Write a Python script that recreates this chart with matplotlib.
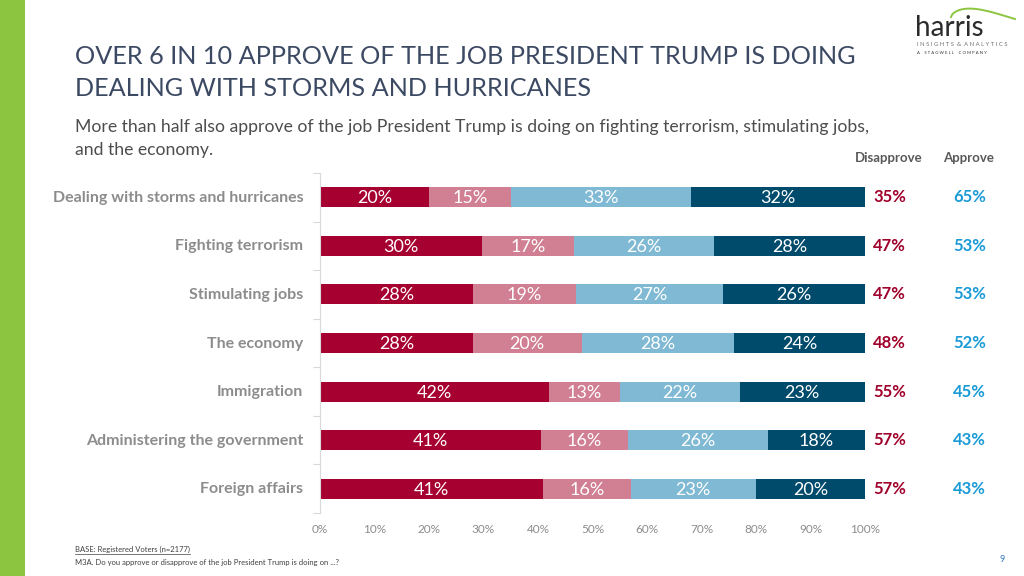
import matplotlib
matplotlib.use("Agg")
import matplotlib.pyplot as plt
import numpy as np
from matplotlib.patches import Rectangle

categories = ["Dealing with storms and hurricanes", "Fighting terrorism", "Stimulating jobs",
              "The economy", "Immigration", "Administering the government", "Foreign affairs"]
strongly_disapprove = [20, 30, 28, 28, 42, 41, 41]
somewhat_disapprove = [15, 17, 19, 20, 13, 16, 16]
somewhat_approve = [33, 26, 27, 28, 22, 26, 23]
strongly_approve = [32, 28, 26, 24, 23, 18, 20]
disapprove_total = [35, 47, 47, 48, 55, 57, 57]
approve_total = [65, 53, 53, 52, 45, 43, 43]
x_ticks = [0, 10, 20, 30, 40, 50, 60, 70, 80, 90, 100]
x_tick_labels = [f"{t}%" for t in x_ticks]

colors = ["#A50030", "#D17F92", "#80B9D3", "#004B6C"]
FONT = "Lato"

W, H = 1024, 576
fig = plt.figure(figsize=(W / 100, H / 100), dpi=100)
fig.patch.set_facecolor("white")

def fx(px):
    return px / W

def fy(py):
    return 1 - py / H

# green side band
fig.add_artist(Rectangle((0, 0), fx(25), 1, transform=fig.transFigure,
                         facecolor="#8CC540", edgecolor="none"))

# title & subtitle
fig.text(fx(75), fy(57), "OVER 6 IN 10 APPROVE OF THE JOB PRESIDENT TRUMP IS DOING",
         fontsize=18.2, color="#3C4963", family=FONT, va="center", ha="left")
fig.text(fx(75), fy(88), "DEALING WITH STORMS AND HURRICANES",
         fontsize=18.2, color="#3C4963", family=FONT, va="center", ha="left")
fig.text(fx(75), fy(127), "More than half also approve of the job President Trump is doing on fighting terrorism, stimulating jobs,",
         fontsize=12.7, color="#4D4D4D", family=FONT, va="center", ha="left")
fig.text(fx(75), fy(150), "and the economy.",
         fontsize=12.7, color="#4D4D4D", family=FONT, va="center", ha="left")

# logo
fig.text(fx(915), fy(28), "harris", fontsize=20, color="#2B2B2B", family=FONT,
         va="center", ha="left")
tt = np.linspace(0, 1, 50)
arc_x = 951 + 64 * tt
arc_y = 17 - 9 * np.sin(np.pi * tt ** 0.6) + 2 * tt
fig.add_artist(plt.Line2D(fx(arc_x), fy(arc_y), transform=fig.transFigure,
                          color="#8CC540", lw=1.4))
fig.text(fx(917), fy(44), "I N S I G H T S  &  A N A L Y T I C S", fontsize=4.2, color="#6E6E6E",
         family=FONT, va="center", ha="left")
fig.text(fx(917), fy(53), "A    S T A G W E L L    C O M P A N Y", fontsize=3.1, color="#333333",
         family=FONT, va="center", ha="left")

# main axes
top_px, bot_px = 173, 513
ax = fig.add_axes([fx(320), fy(bot_px), fx(865) - fx(320), (bot_px - top_px) / H])
n = len(categories)
y = np.arange(n)
series = [strongly_disapprove, somewhat_disapprove, somewhat_approve, strongly_approve]
vals = np.array(series, dtype=float)
totals = vals.sum(axis=0)
left = np.zeros(n)
for k, s in enumerate(series):
    w = np.array(s, dtype=float) / totals * 100
    ax.barh(y, w, left=left, height=0.41, color=colors[k], edgecolor="none")
    for i in range(n):
        ax.text(left[i] + w[i] / 2, y[i] + 0.02, f"{s[i]}%", ha="center", va="center",
                color="white", fontsize=13, family=FONT)
    left += w

ax.set_xlim(0, 100)
ax.set_ylim(n - 0.5, -0.5)
for sp in ["top", "right", "bottom"]:
    ax.spines[sp].set_visible(False)
ax.spines["left"].set_color("#D9D9D9")
ax.spines["left"].set_linewidth(0.8)
ax.set_yticks(y - 0.02)
ax.set_yticklabels(categories, fontsize=11.5, color="#8C8C8C", family=FONT, fontweight="bold")
ax.tick_params(axis="y", length=0, pad=12)
ax.set_yticks(np.arange(-0.5, n, 1.0), minor=True)
ax.tick_params(axis="y", which="minor", length=5, color="#D9D9D9", width=0.8)
ax.set_xticks(x_ticks)
ax.set_xticklabels(x_tick_labels, fontsize=8.5, color="#8C8C8C", family=FONT)
ax.tick_params(axis="x", length=0, pad=8)

# totals columns
for i in range(n):
    ax.text(1.045, i, f"{disapprove_total[i]}%", transform=ax.get_yaxis_transform(),
            ha="center", va="center", fontsize=12, color="#A0002A", family=FONT, fontweight="bold")
    ax.text(1.192, i, f"{approve_total[i]}%", transform=ax.get_yaxis_transform(),
            ha="center", va="center", fontsize=12, color="#1A9AD6", family=FONT, fontweight="bold")
fig.text(fx(889), fy(158), "Disapprove", fontsize=9.5, color="#595959", family=FONT,
         fontweight="bold", ha="center", va="center")
fig.text(fx(969), fy(158), "Approve", fontsize=9.5, color="#595959", family=FONT,
         fontweight="bold", ha="center", va="center")

# footer
fig.text(fx(75), fy(549), "BASE: Registered Voters (n=2177)", fontsize=5.5, color="#404040",
         family=FONT, ha="left", va="center")
fig.add_artist(plt.Line2D([fx(75), fx(190)], [fy(554), fy(554)], transform=fig.transFigure,
                          color="#404040", lw=0.5))
fig.text(fx(75), fy(562), "M3A. Do you approve or disapprove of the job President Trump is doing on ...?",
         fontsize=5.5, color="#404040", family=FONT, ha="left", va="center")
fig.text(fx(1002), fy(559), "9", fontsize=6.5, color="#3A7BBF", family=FONT, ha="center", va="center")

fig.savefig("out.png", dpi=100, facecolor="white")
